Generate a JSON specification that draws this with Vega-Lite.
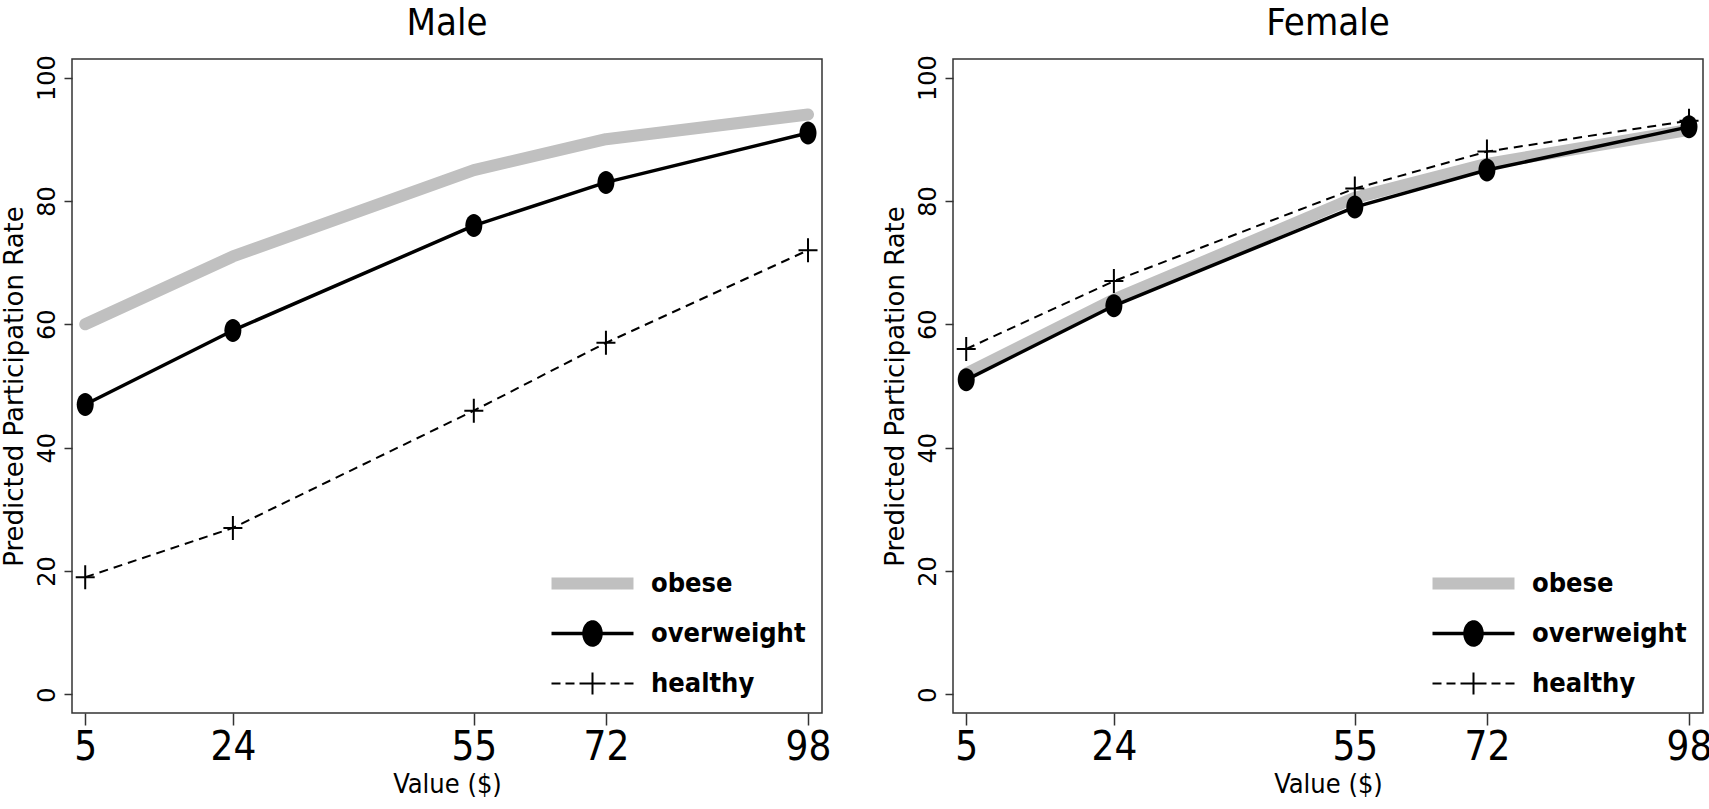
{
  "$schema": "https://vega.github.io/schema/vega-lite/v6.json",
  "background": "white",
  "padding": {"left": 0, "top": 3, "right": 0, "bottom": 0},
  "datasets": {
    "rates": [
      {"sex": "Male", "group": "obese", "value": 5, "rate": 60},
      {"sex": "Male", "group": "obese", "value": 24, "rate": 71},
      {"sex": "Male", "group": "obese", "value": 55, "rate": 85},
      {"sex": "Male", "group": "obese", "value": 72, "rate": 90},
      {"sex": "Male", "group": "obese", "value": 98, "rate": 94},
      {"sex": "Male", "group": "overweight", "value": 5, "rate": 47},
      {"sex": "Male", "group": "overweight", "value": 24, "rate": 59},
      {"sex": "Male", "group": "overweight", "value": 55, "rate": 76},
      {"sex": "Male", "group": "overweight", "value": 72, "rate": 83},
      {"sex": "Male", "group": "overweight", "value": 98, "rate": 91},
      {"sex": "Male", "group": "healthy", "value": 5, "rate": 19},
      {"sex": "Male", "group": "healthy", "value": 24, "rate": 27},
      {"sex": "Male", "group": "healthy", "value": 55, "rate": 46},
      {"sex": "Male", "group": "healthy", "value": 72, "rate": 57},
      {"sex": "Male", "group": "healthy", "value": 98, "rate": 72},
      {"sex": "Female", "group": "obese", "value": 5, "rate": 52},
      {"sex": "Female", "group": "obese", "value": 24, "rate": 64},
      {"sex": "Female", "group": "obese", "value": 55, "rate": 80.5},
      {"sex": "Female", "group": "obese", "value": 72, "rate": 86},
      {"sex": "Female", "group": "obese", "value": 98, "rate": 91.5},
      {"sex": "Female", "group": "overweight", "value": 5, "rate": 51},
      {"sex": "Female", "group": "overweight", "value": 24, "rate": 63},
      {"sex": "Female", "group": "overweight", "value": 55, "rate": 79},
      {"sex": "Female", "group": "overweight", "value": 72, "rate": 85},
      {"sex": "Female", "group": "overweight", "value": 98, "rate": 92},
      {"sex": "Female", "group": "healthy", "value": 5, "rate": 56},
      {"sex": "Female", "group": "healthy", "value": 24, "rate": 67},
      {"sex": "Female", "group": "healthy", "value": 55, "rate": 82},
      {"sex": "Female", "group": "healthy", "value": 72, "rate": 88},
      {"sex": "Female", "group": "healthy", "value": 98, "rate": 93}
    ]
  },
  "hconcat": [
    {
      "title": {"text": "Male"},
      "width": 750,
      "height": 654,
      "data": {"name": "rates"},
      "transform": [{"filter": "datum.sex === 'Male'"}],
      "encoding": {
        "x": {"field": "value", "type": "quantitative", "title": "Value ($)", "scale": {"domain": [3.3, 99.8], "nice": false, "zero": false}, "axis": {"values": [5, 24, 55, 72, 98]}},
        "y": {"field": "rate", "type": "quantitative", "title": "Predicted Participation Rate", "scale": {"domain": [-3, 103], "nice": false, "zero": false}, "axis": {"values": [0, 20, 40, 60, 80, 100]}}
      },
      "layer": [
        {
          "transform": [{"filter": "datum.group === 'obese'"}],
          "mark": {"type": "line", "strokeCap": "round", "strokeJoin": "round", "strokeWidth": 12},
          "encoding": {
            "color": {"field": "group", "type": "nominal", "sort": ["obese", "overweight", "healthy"], "scale": {"domain": ["obese", "overweight", "healthy"], "range": ["#c0c0c0", "#000000", "#000000"]},
              "legend": {
                "title": null, "orient": "bottom-right", "offset": 16,
                "symbolSize": 400, "labelOffset": 45, "rowPadding": 22, "labelLimit": 0,
                "encode": {"symbols": {"update": {
                  "shape": {"signal": "datum.value === 'obese' ? 'M-4.1,0H4.1' : datum.value === 'overweight' ? 'M-4.1,0H4.1M0.85,0A0.85,1.15 0 1,1 -0.85,0A0.85,1.15 0 1,1 0.85,0Z' : 'M-4.1,0H-3.2M-2.7,0H-1.8M-1.3,0H1.3M0,-1.1V1.1M1.8,0H2.7M3.2,0H4.1'"},
                  "fill": {"signal": "datum.value === 'overweight' ? '#000000' : 'transparent'"},
                  "stroke": {"signal": "datum.value === 'obese' ? '#c0c0c0' : '#000000'"},
                  "strokeWidth": {"signal": "datum.value === 'obese' ? 12 : datum.value === 'overweight' ? 3.5 : 2"},
                  "strokeCap": {"value": "butt"},
                  "strokeJoin": {"value": "round"},
                  "strokeDash": {"value": [1, 0]},
                  "opacity": {"value": 1},
                  "fillOpacity": {"value": 1},
                  "strokeOpacity": {"value": 1}
                }}}
              }
            }
          }
        },
        {
          "transform": [{"filter": "datum.group === 'overweight'"}],
          "mark": {"type": "line", "strokeCap": "round", "strokeJoin": "round", "strokeWidth": 3.5},
          "encoding": {
            "color": {"field": "group", "type": "nominal", "sort": ["obese", "overweight", "healthy"], "scale": {"domain": ["obese", "overweight", "healthy"], "range": ["#c0c0c0", "#000000", "#000000"]}}
          }
        },
        {
          "transform": [{"filter": "datum.group === 'healthy'"}],
          "mark": {"type": "line", "strokeJoin": "round", "strokeWidth": 2, "strokeDash": [9, 6]},
          "encoding": {
            "color": {"field": "group", "type": "nominal", "sort": ["obese", "overweight", "healthy"], "scale": {"domain": ["obese", "overweight", "healthy"], "range": ["#c0c0c0", "#000000", "#000000"]}}
          }
        },
        {
          "transform": [{"filter": "datum.group === 'overweight'"}],
          "mark": {"type": "point", "shape": "M0.85,0A0.85,1.15 0 1,1 -0.85,0A0.85,1.15 0 1,1 0.85,0Z", "size": 400, "filled": true, "color": "#000000", "opacity": 1}
        },
        {
          "transform": [{"filter": "datum.group === 'healthy'"}],
          "mark": {"type": "point", "shape": "M-0.95,0H0.95M0,-1.2V1.2", "size": 400, "filled": false, "color": "#000000", "strokeWidth": 2, "opacity": 1}
        }
      ]
    },
    {
      "title": {"text": "Female"},
      "width": 750,
      "height": 654,
      "data": {"name": "rates"},
      "transform": [{"filter": "datum.sex === 'Female'"}],
      "encoding": {
        "x": {"field": "value", "type": "quantitative", "title": "Value ($)", "scale": {"domain": [3.3, 99.8], "nice": false, "zero": false}, "axis": {"values": [5, 24, 55, 72, 98]}},
        "y": {"field": "rate", "type": "quantitative", "title": "Predicted Participation Rate", "scale": {"domain": [-3, 103], "nice": false, "zero": false}, "axis": {"values": [0, 20, 40, 60, 80, 100]}}
      },
      "layer": [
        {
          "transform": [{"filter": "datum.group === 'obese'"}],
          "mark": {"type": "line", "strokeCap": "round", "strokeJoin": "round", "strokeWidth": 12},
          "encoding": {
            "color": {"field": "group", "type": "nominal", "sort": ["obese", "overweight", "healthy"], "scale": {"domain": ["obese", "overweight", "healthy"], "range": ["#c0c0c0", "#000000", "#000000"]},
              "legend": {
                "title": null, "orient": "bottom-right", "offset": 16,
                "symbolSize": 400, "labelOffset": 45, "rowPadding": 22, "labelLimit": 0,
                "encode": {"symbols": {"update": {
                  "shape": {"signal": "datum.value === 'obese' ? 'M-4.1,0H4.1' : datum.value === 'overweight' ? 'M-4.1,0H4.1M0.85,0A0.85,1.15 0 1,1 -0.85,0A0.85,1.15 0 1,1 0.85,0Z' : 'M-4.1,0H-3.2M-2.7,0H-1.8M-1.3,0H1.3M0,-1.1V1.1M1.8,0H2.7M3.2,0H4.1'"},
                  "fill": {"signal": "datum.value === 'overweight' ? '#000000' : 'transparent'"},
                  "stroke": {"signal": "datum.value === 'obese' ? '#c0c0c0' : '#000000'"},
                  "strokeWidth": {"signal": "datum.value === 'obese' ? 12 : datum.value === 'overweight' ? 3.5 : 2"},
                  "strokeCap": {"value": "butt"},
                  "strokeJoin": {"value": "round"},
                  "strokeDash": {"value": [1, 0]},
                  "opacity": {"value": 1},
                  "fillOpacity": {"value": 1},
                  "strokeOpacity": {"value": 1}
                }}}
              }
            }
          }
        },
        {
          "transform": [{"filter": "datum.group === 'overweight'"}],
          "mark": {"type": "line", "strokeCap": "round", "strokeJoin": "round", "strokeWidth": 3.5},
          "encoding": {
            "color": {"field": "group", "type": "nominal", "sort": ["obese", "overweight", "healthy"], "scale": {"domain": ["obese", "overweight", "healthy"], "range": ["#c0c0c0", "#000000", "#000000"]}}
          }
        },
        {
          "transform": [{"filter": "datum.group === 'healthy'"}],
          "mark": {"type": "line", "strokeJoin": "round", "strokeWidth": 2, "strokeDash": [9, 6]},
          "encoding": {
            "color": {"field": "group", "type": "nominal", "sort": ["obese", "overweight", "healthy"], "scale": {"domain": ["obese", "overweight", "healthy"], "range": ["#c0c0c0", "#000000", "#000000"]}}
          }
        },
        {
          "transform": [{"filter": "datum.group === 'overweight'"}],
          "mark": {"type": "point", "shape": "M0.85,0A0.85,1.15 0 1,1 -0.85,0A0.85,1.15 0 1,1 0.85,0Z", "size": 400, "filled": true, "color": "#000000", "opacity": 1}
        },
        {
          "transform": [{"filter": "datum.group === 'healthy'"}],
          "mark": {"type": "point", "shape": "M-0.95,0H0.95M0,-1.2V1.2", "size": 400, "filled": false, "color": "#000000", "strokeWidth": 2, "opacity": 1}
        }
      ]
    }
  ],
  "resolve": {"legend": {"color": "independent"}, "scale": {"color": "independent"}},
  "config": {
    "view": {"stroke": "#333333", "strokeWidth": 1.5},
    "concat": {"spacing": 49},
    "title": {"font": "Liberation Sans Narrow, DejaVu Sans Condensed, Roboto Condensed, Liberation Sans, sans-serif", "fontSize": 38, "fontWeight": "normal", "color": "#000000", "anchor": "middle", "offset": 12},
    "axisX": {
      "grid": false, "domain": false, "tickSize": 12, "tickColor": "#333333", "tickWidth": 1.5,
      "labelFont": "Liberation Sans Narrow, DejaVu Sans Condensed, Roboto Condensed, Liberation Sans, sans-serif", "labelFontSize": 40, "labelColor": "#000000", "labelPadding": 2,
      "titleFont": "Liberation Sans Narrow, DejaVu Sans Condensed, Roboto Condensed, Liberation Sans, sans-serif", "titleFontSize": 27, "titleFontWeight": "normal", "titleColor": "#000000", "titlePadding": 4
    },
    "axisY": {
      "grid": false, "domain": false, "tickSize": 8, "tickColor": "#333333", "tickWidth": 1.5,
      "labelFont": "DejaVu Sans", "labelFontSize": 24, "labelColor": "#000000", "labelAngle": -90, "labelAlign": "center", "labelBaseline": "alphabetic", "labelPadding": 10,
      "titleFont": "DejaVu Sans", "titleFontSize": 26, "titleFontWeight": "normal", "titleColor": "#000000", "titlePadding": 8
    },
    "legend": {
      "labelFont": "Liberation Sans Narrow, DejaVu Sans Condensed, Roboto Condensed, Liberation Sans, sans-serif", "labelFontSize": 27, "labelFontWeight": "bold", "labelColor": "#000000", "padding": 0
    }
  }
}
